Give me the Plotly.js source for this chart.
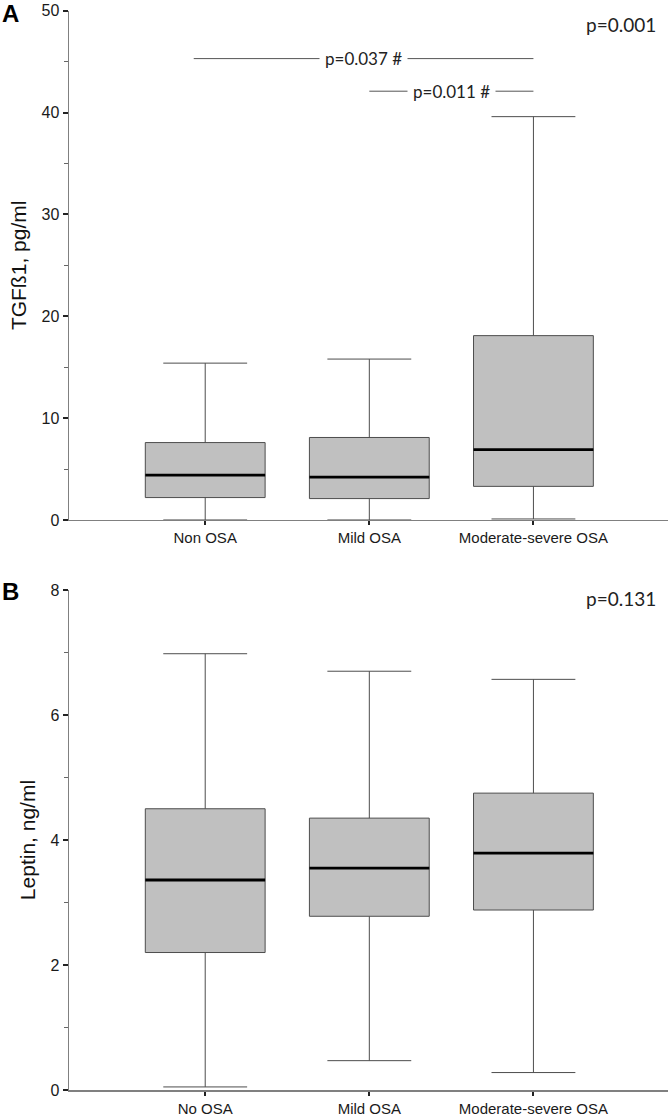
<!DOCTYPE html>
<html>
<head>
<meta charset="utf-8">
<script src="https://cdn.plot.ly/plotly-3.0.1.min.js"></script>
<style>html,body{margin:0;padding:0;background:#fff;}#chart{width:668px;height:1118px;}</style>
</head>
<body>
<div id="chart"></div>
<script>
// ---- Panel A: TGFβ1 ----
const categoriesA = ['Non OSA', 'Mild OSA', 'Moderate-severe OSA'];
const tgfLower  = [0, 0, 0.1];
const tgfQ1     = [2.2, 2.1, 3.3];
const tgfMedian = [4.4, 4.2, 6.9];
const tgfQ3     = [7.6, 8.1, 18.1];
const tgfUpper  = [15.4, 15.8, 39.6];
const pOverallA = 'p=0.001';
const sigFromA  = [0, 1];
const sigToA    = [2, 2];
const sigYA     = [45.3, 42.1];
const sigLabelA = ['p=0.037 #', 'p=0.011 #'];

// ---- Panel B: Leptin ----
const categoriesB = ['No OSA', 'Mild OSA', 'Moderate-severe OSA'];
const lepLower  = [0.05, 0.47, 0.28];
const lepQ1     = [2.2, 2.78, 2.88];
const lepMedian = [3.36, 3.55, 3.79];
const lepQ3     = [4.5, 4.35, 4.75];
const lepUpper  = [6.98, 6.7, 6.57];
const pOverallB = 'p=0.131';

const boxFill = '#c0c0c0';
const boxLine = '#4d4d4d';
const axisGrey = '#808080';
const tickFont = {family: 'Liberation Sans, Arial, sans-serif', size: 16, color: '#1a1a1a'};
const xTickFont = {family: 'Liberation Sans, Arial, sans-serif', size: 15, color: '#1a1a1a'};
const sigFont = {family: 'Lato, Carlito, sans-serif', size: 17, color: '#222'};
const pFont = {family: 'Lato, Carlito, sans-serif', size: 19, color: '#222'};

function boxTrace(cats, lo, q1, med, q3, hi, xa, ya) {
  return {
    type: 'box', x: cats, lowerfence: lo, q1: q1, median: med, q3: q3, upperfence: hi,
    xaxis: xa, yaxis: ya, width: 0.73, whiskerwidth: 0.7,
    fillcolor: boxFill, line: {color: boxLine, width: 1},
    boxpoints: false, hoverinfo: 'skip', showlegend: false
  };
}
function medianTrace(cats, med, xa, ya) {
  return {
    type: 'box', x: cats, lowerfence: med, q1: med, median: med, q3: med, upperfence: med,
    xaxis: xa, yaxis: ya, width: 0.73, whiskerwidth: 0,
    fillcolor: 'rgba(0,0,0,0)', line: {color: '#000', width: 2.8},
    boxpoints: false, hoverinfo: 'skip', showlegend: false
  };
}

const traces = [
  boxTrace(categoriesA, tgfLower, tgfQ1, tgfMedian, tgfQ3, tgfUpper, 'x', 'y'),
  medianTrace(categoriesA, tgfMedian, 'x', 'y'),
  boxTrace(categoriesB, lepLower, lepQ1, lepMedian, lepQ3, lepUpper, 'x2', 'y2'),
  medianTrace(categoriesB, lepMedian, 'x2', 'y2')
];

const shapes = [];
const annotations = [];
for (let i = 0; i < sigFromA.length; i++) {
  const x0 = sigFromA[i] === 0 ? sigFromA[i] - 0.07 : sigFromA[i];
  const x1 = sigToA[i];
  shapes.push({
    type: 'line', xref: 'x', yref: 'y', x0: x0, x1: x1, y0: sigYA[i], y1: sigYA[i],
    line: {color: '#555', width: 1}
  });
  annotations.push({
    xref: 'x', yref: 'y', x: (x0 + x1) / 2, y: sigYA[i], text: sigLabelA[i],
    showarrow: false, bgcolor: '#fff', borderpad: 5, font: sigFont
  });
}
annotations.push(
  {xref: 'paper', yref: 'paper', x: -0.098, y: 0.988, xanchor: 'center', yanchor: 'middle',
   text: '<b>A</b>', showarrow: false, font: {family: 'Liberation Sans, Arial', size: 24, color: '#000'}},
  {xref: 'paper', yref: 'paper', x: -0.098, y: 0.471, xanchor: 'center', yanchor: 'middle',
   text: '<b>B</b>', showarrow: false, font: {family: 'Liberation Sans, Arial', size: 24, color: '#000'}},
  {xref: 'paper', yref: 'paper', x: 0.922, y: 0.978, xanchor: 'center', yanchor: 'middle',
   text: pOverallA, showarrow: false, font: pFont},
  {xref: 'paper', yref: 'paper', x: 0.922, y: 0.465, xanchor: 'center', yanchor: 'middle',
   text: pOverallB, showarrow: false, font: pFont}
);

function yAxis(domain, range, dtick, title) {
  return {
    domain: domain, range: range, dtick: dtick, tick0: 0,
    showline: true, linecolor: axisGrey, linewidth: 1.5,
    showgrid: false, zeroline: false,
    ticks: 'outside', ticklen: 5, tickwidth: 2, tickcolor: '#222',
    minor: {dtick: dtick / 2, ticks: 'outside', ticklen: 4, tickwidth: 1, tickcolor: '#666', showgrid: false},
    tickfont: tickFont,
    title: {text: title, font: {family: 'Liberation Sans, Arial', size: 21, color: '#111'}, standoff: 9},
    fixedrange: true
  };
}
function xAxis(anchor) {
  return {
    anchor: anchor, domain: [0, 1], range: [-0.83, 2.82], type: 'category',
    showline: true, linecolor: axisGrey, linewidth: 1.5,
    showgrid: false, zeroline: false,
    ticks: 'outside', ticklen: 4, tickwidth: 2, tickcolor: '#222',
    tickfont: xTickFont, fixedrange: true
  };
}

const layout = {
  width: 668, height: 1118,
  margin: {l: 69, r: 0, t: 0, b: 0},
  paper_bgcolor: '#fff', plot_bgcolor: '#fff',
  showlegend: false,
  xaxis: xAxis('y'),
  yaxis: yAxis([0.5349, 0.9904], [0, 50], 10, 'TGFß1, pg/ml'),
  xaxis2: xAxis('y2'),
  yaxis2: yAxis([0.0250, 0.4723], [0, 8], 2, 'Leptin, ng/ml'),
  shapes: shapes,
  annotations: annotations
};

Plotly.newPlot('chart', traces, layout, {displayModeBar: false, staticPlot: true});
</script>
</body>
</html>
